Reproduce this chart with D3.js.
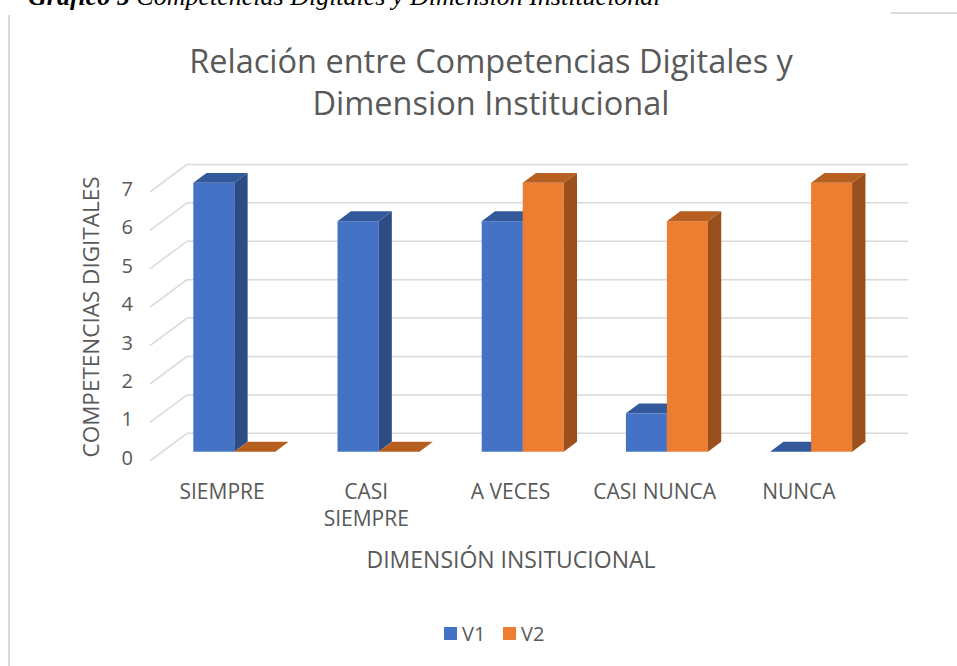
<!DOCTYPE html>
<html>
<head>
<meta charset="utf-8">
<script src="https://cdn.jsdelivr.net/npm/d3@7"></script>
<style>
  body { margin: 0; background: #fff; }
  text { font-family: "Open Sans", sans-serif; fill: #595959; }
</style>
</head>
<body>
<svg width="957" height="666"></svg>
<script>
var categories = ["SIEMPRE", "CASI SIEMPRE", "A VECES", "CASI NUNCA", "NUNCA"];
var series = ["V1", "V2"];
var v1 = [7, 6, 6, 1, 0];
var v2 = [0, 0, 7, 6, 7];
var yTicks = [0, 1, 2, 3, 4, 5, 6, 7];

var svg = d3.select("svg"),
    width = +svg.attr("width"),
    height = +svg.attr("height");

var front = { y0: 460.8 };
var depth = [37, -27.5];         // full depth of the floor
var barF = 0.33, barD = 0.36;    // where the bars sit in the depth

var x0 = d3.scaleBand()
    .domain(categories)
    .range([150, 871]);

var x1 = d3.scaleBand()
    .domain(series)
    .range([-41, 41]);

var y = d3.scaleLinear()
    .domain([0, 7])
    .range([0, 268.9]);

var color = {
  V1: { front: "#4472c4", side: "#2c4c86", top: "#34599b" },
  V2: { front: "#ed7d31", side: "#9b4f1c", top: "#b75e21" }
};

// chart frame bits
svg.append("line")
    .attr("x1", 9).attr("x2", 9).attr("y1", 15).attr("y2", height)
    .attr("stroke", "#d9d9d9").attr("stroke-width", 2);
svg.append("line")
    .attr("x1", 891).attr("x2", width).attr("y1", 13).attr("y2", 13)
    .attr("stroke", "#d9d9d9").attr("stroke-width", 2);

// caption cut off at the top, like the page it was taken from
var cap = svg.append("text")
    .attr("x", 28).attr("y", 5)
    .style("font-family", "'Liberation Serif', serif")
    .style("font-style", "italic")
    .style("font-size", "26px")
    .style("fill", "#000");
cap.append("tspan").style("font-weight", "bold").text("Gráfico 5 ");
cap.append("tspan").text("Competencias Digitales y Dimensión Institucional");

// title
svg.append("text")
    .attr("text-anchor", "middle")
    .attr("x", 491)
    .style("font-size", "32.5px")
    .selectAll("tspan")
    .data(["Relación entre Competencias Digitales y", "Dimension Institucional"])
    .enter().append("tspan")
    .attr("x", 491)
    .attr("y", function(d, i) { return 73 + i * 42; })
    .text(function(d) { return d; });

// gridlines: back wall + left wall
var grid = svg.append("g").attr("stroke", "#d9d9d9").attr("stroke-width", 1.5);
grid.selectAll(".back")
  .data(yTicks)
  .enter().append("line")
    .attr("x1", 150 + depth[0]).attr("x2", 871 + depth[0])
    .attr("y1", function(d) { return front.y0 - y(d) + depth[1]; })
    .attr("y2", function(d) { return front.y0 - y(d) + depth[1]; });
grid.selectAll(".wall")
  .data(yTicks)
  .enter().append("line")
    .attr("x1", 150).attr("x2", 150 + depth[0])
    .attr("y1", function(d) { return front.y0 - y(d); })
    .attr("y2", function(d) { return front.y0 - y(d) + depth[1]; });

// y tick labels
svg.append("g")
    .style("font-size", "20px")
    .attr("text-anchor", "end")
  .selectAll("text")
  .data(yTicks)
  .enter().append("text")
    .attr("x", 133)
    .attr("y", function(d) { return front.y0 - y(d) - 3; })
    .attr("dy", "0.35em")
    .text(function(d) { return d; });

svg.append("text")
    .attr("transform", "translate(99,317) rotate(-90)")
    .attr("text-anchor", "middle")
    .style("font-size", "22.5px")
    .text("COMPETENCIAS DIGITALES");

// bars
var ox = depth[0] * barF, oy = depth[1] * barF;
var dx = depth[0] * barD, dy = depth[1] * barD;

var rows = [];
categories.forEach(function(c, i) {
  rows.push({ cat: c, s: "V1", v: v1[i] });
  rows.push({ cat: c, s: "V2", v: v2[i] });
});

var bars = svg.append("g").selectAll("g")
  .data(rows)
  .enter().append("g");

function pts(a) { return a.map(function(p) { return p.join(","); }).join(" "); }

bars.each(function(d) {
  var g = d3.select(this);
  var xl = x0(d.cat) + x0.bandwidth() / 2 + x1(d.s) + ox,
      xr = xl + x1.bandwidth(),
      yb = front.y0 + oy,
      yt = yb - y(d.v);
  if (d.v > 0) {
    g.append("rect")
        .attr("x", xl).attr("y", yt)
        .attr("width", xr - xl).attr("height", yb - yt)
        .attr("fill", color[d.s].front);
    g.append("polygon")
        .attr("points", pts([[xr, yt], [xr + dx, yt + dy], [xr + dx, yb + dy], [xr, yb]]))
        .attr("fill", color[d.s].side);
  }
  g.append("polygon")
      .attr("points", pts([[xl, yt], [xr, yt], [xr + dx, yt + dy], [xl + dx, yt + dy]]))
      .attr("fill", color[d.s].top);
});

// category labels
var catLines = {
  "CASI SIEMPRE": ["CASI", "SIEMPRE"]
};
svg.append("g")
    .style("font-size", "21px")
    .attr("text-anchor", "middle")
  .selectAll("text")
  .data(categories)
  .enter().append("text")
    .attr("x", function(d) { return x0(d) + x0.bandwidth() / 2; })
    .attr("y", 499)
  .each(function(d) {
    var lines = catLines[d] || [d];
    var t = d3.select(this);
    lines.forEach(function(l, i) {
      t.append("tspan")
          .attr("x", x0(d) + x0.bandwidth() / 2)
          .attr("dy", i ? 27 : 0)
          .text(l);
    });
  });

svg.append("text")
    .attr("x", 511).attr("y", 568)
    .attr("text-anchor", "middle")
    .style("font-size", "23px")
    .text("DIMENSIÓN INSITUCIONAL");

// legend
var legend = svg.append("g")
    .style("font-size", "20px")
  .selectAll("g")
  .data(series)
  .enter().append("g")
    .attr("transform", function(d, i) { return "translate(" + (444 + i * 59) + ",627)"; });
legend.append("rect")
    .attr("width", 13).attr("height", 13)
    .attr("fill", function(d) { return color[d].front; });
legend.append("text")
    .attr("x", 18).attr("y", 13.5)
    .text(function(d) { return d; });
</script>
</body>
</html>
